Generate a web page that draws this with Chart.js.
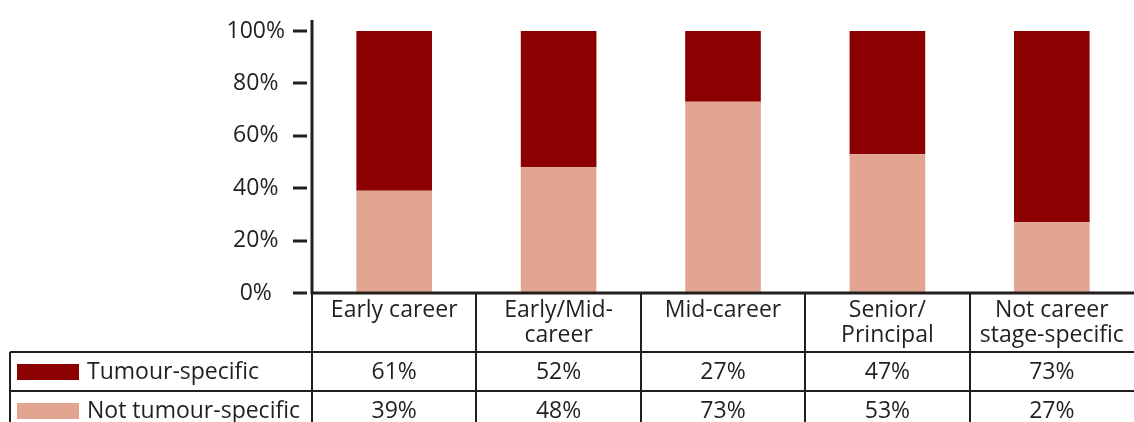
<!DOCTYPE html>
<html>
<head>
<meta charset="utf-8">
<script src="https://cdn.jsdelivr.net/npm/chart.js@4/dist/chart.umd.min.js"></script>
<style>
  html, body { margin: 0; padding: 0; background: #fff; }
  #wrap { width: 1134px; height: 422px; }
</style>
</head>
<body>
<div id="wrap"><canvas id="grafico"></canvas></div>
<script>
// datos
const categorias = [['Early career'], ['Early/Mid-', 'career'], ['Mid-career'], ['Senior/', 'Principal'], ['Not career', 'stage-specific']];
const seriesNombres = ['Tumour-specific', 'Not tumour-specific'];
const tumourSpecific = [61, 52, 27, 47, 73];
const notTumourSpecific = [39, 48, 73, 53, 27];
const yTicks = [0, 20, 40, 60, 80, 100];

const colores = ['#8b0000', '#e2a591'];
const tinta = '#231f20';
const fuente = '"Open Sans", sans-serif';
const tamLetra = 23;

// tabla de datos debajo del eje x (como en Excel)
const tablaDatos = {
  id: 'tablaDatos',
  afterDraw(chart) {
    const { ctx, chartArea, scales } = chart;
    const x = scales.x, y = scales.y;
    const left = chartArea.left, right = chartArea.right, bottom = chartArea.bottom;
    const alto = chart.height;
    const catW = x.getPixelForValue(1) - x.getPixelForValue(0);
    const filaCab = bottom + 59;
    const fila1 = filaCab + 39;
    const tablaIzq = 10;

    ctx.save();
    ctx.strokeStyle = tinta;
    ctx.lineCap = 'butt';

    // marcas del eje y
    ctx.lineWidth = 3;
    yTicks.forEach(v => {
      const py = Math.round(y.getPixelForValue(v));
      ctx.beginPath();
      ctx.moveTo(left - 19, py);
      ctx.lineTo(left - 5, py);
      ctx.stroke();
    });

    // lineas finas de la tabla
    ctx.lineWidth = 2;
    ctx.beginPath();
    ctx.moveTo(left, bottom);
    ctx.lineTo(left, alto);
    for (let i = 1; i < categorias.length; i++) {
      const bx = Math.round(x.getPixelForValue(i) - catW / 2);
      ctx.moveTo(bx, bottom);
      ctx.lineTo(bx, alto);
    }
    ctx.moveTo(tablaIzq, filaCab);
    ctx.lineTo(right, filaCab);
    ctx.moveTo(tablaIzq, fila1);
    ctx.lineTo(right, fila1);
    ctx.moveTo(tablaIzq, filaCab);
    ctx.lineTo(tablaIzq, alto);
    ctx.stroke();

    // ejes gruesos
    ctx.lineWidth = 3;
    ctx.beginPath();
    ctx.moveTo(left, chartArea.top - 11);
    ctx.lineTo(left, bottom);
    ctx.moveTo(left - 1.5, bottom);
    ctx.lineTo(right, bottom);
    ctx.stroke();

    // textos
    ctx.fillStyle = tinta;
    ctx.font = tamLetra + 'px ' + fuente;
    ctx.textAlign = 'center';
    ctx.textBaseline = 'middle';
    categorias.forEach((lineas, i) => {
      const cx = x.getPixelForValue(i);
      lineas.forEach((t, j) => ctx.fillText(t, cx, bottom + 17 + j * 25));
      ctx.fillText(tumourSpecific[i] + '%', cx, filaCab + 20);
      ctx.fillText(notTumourSpecific[i] + '%', cx, fila1 + 20);
    });

    // leyenda dentro de la tabla
    ctx.textAlign = 'left';
    [filaCab, fila1].forEach((fy, k) => {
      ctx.fillStyle = colores[k];
      ctx.fillRect(17, fy + 12, 62, 16);
      ctx.fillStyle = tinta;
      ctx.fillText(seriesNombres[k], 87, fy + 20);
    });
    ctx.restore();
  }
};

const ctx = document.getElementById('grafico').getContext('2d');
new Chart(ctx, {
  type: 'bar',
  data: {
    labels: categorias,
    datasets: [
      {
        label: seriesNombres[1],
        data: notTumourSpecific,
        backgroundColor: colores[1],
        barPercentage: 0.46,
        categoryPercentage: 1
      },
      {
        label: seriesNombres[0],
        data: tumourSpecific,
        backgroundColor: colores[0],
        barPercentage: 0.46,
        categoryPercentage: 1
      }
    ]
  },
  options: {
    responsive: true,
    maintainAspectRatio: false,
    animation: false,
    layout: { padding: { top: 31, right: 0, left: 0, bottom: 0 } },
    plugins: {
      legend: { display: false },
      tooltip: { enabled: false }
    },
    scales: {
      x: {
        stacked: true,
        grid: { display: false },
        border: { display: false },
        ticks: { display: false },
        afterFit: s => { s.height = 129; }
      },
      y: {
        stacked: true,
        min: 0,
        max: 100,
        afterBuildTicks: s => { s.ticks = yTicks.map(v => ({ value: v })); },
        grid: { display: false, drawTicks: false },
        border: { display: false },
        ticks: {
          padding: 27,
          crossAlign: 'center',
          color: tinta,
          font: { family: fuente, size: tamLetra },
          callback: v => v + '%'
        },
        afterFit: s => { s.width = 312; s.paddingTop = 0; s.paddingBottom = 0; }
      }
    }
  },
  plugins: [tablaDatos]
});
</script>
</body>
</html>
